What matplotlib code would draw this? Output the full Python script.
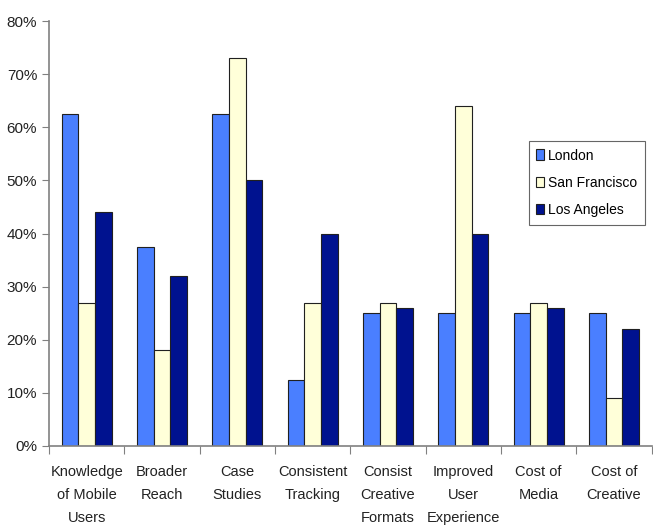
import matplotlib.pyplot as plt
import numpy as np
from matplotlib.ticker import PercentFormatter

plt.rcParams['font.family'] = ['Liberation Sans', 'DejaVu Sans']

categories = ["Knowledge\nof Mobile\nUsers", "Broader\nReach", "Case\nStudies",
              "Consistent\nTracking", "Consist\nCreative\nFormats",
              "Improved\nUser\nExperience", "Cost of\nMedia", "Cost of\nCreative"]
london = [62.5, 37.5, 62.5, 12.5, 25, 25, 25, 25]
san_francisco = [27, 18, 73, 27, 27, 64, 27, 9]
los_angeles = [44, 32, 50, 40, 26, 40, 26, 22]

series = [("London", london, "#4a7fff"),
          ("San Francisco", san_francisco, "#ffffd9"),
          ("Los Angeles", los_angeles, "#00128f")]

fig = plt.figure(figsize=(6.53, 5.29), dpi=100)
ax = fig.add_axes([0.075, 0.157, 0.923, 0.803])

x = np.arange(len(categories))
w = 0.222
for i, (name, vals, col) in enumerate(series):
    ax.bar(x + (i - 1) * w, vals, w, color=col, edgecolor="#202020",
           linewidth=0.8, label=name)

ax.set_xlim(-0.5, len(categories) - 0.5)
ax.set_ylim(0, 80)
ax.set_yticks(np.arange(0, 81, 10))
ax.yaxis.set_major_formatter(PercentFormatter(decimals=0))

ax.set_xticks(np.arange(-0.5, len(categories)), [""] * (len(categories) + 1))
ax.set_xticks(x, categories, minor=True)
ax.tick_params(axis="x", which="minor", length=0, pad=14, labelsize=10.5)
ax.tick_params(axis="x", which="major", length=6, color="#808080")
ax.tick_params(axis="y", length=5, color="#808080", labelsize=11)
ax.tick_params(which="both", labelcolor="#222222")
for t in ax.get_xticklabels(minor=True):
    t.set_linespacing(1.8)

for s in ["top", "right"]:
    ax.spines[s].set_visible(False)
for s in ["left", "bottom"]:
    ax.spines[s].set_color("#808080")
    ax.spines[s].set_linewidth(1.2)

leg = ax.legend(loc="upper left", bbox_to_anchor=(0.796, 0.718), fontsize=10,
                frameon=True, fancybox=False, edgecolor="#404040",
                handlelength=0.55, handleheight=0.8, handletextpad=0.3,
                borderpad=0.55, labelspacing=0.95, borderaxespad=0)
leg.get_frame().set_linewidth(0.8)

plt.savefig("out.png", dpi=100)
